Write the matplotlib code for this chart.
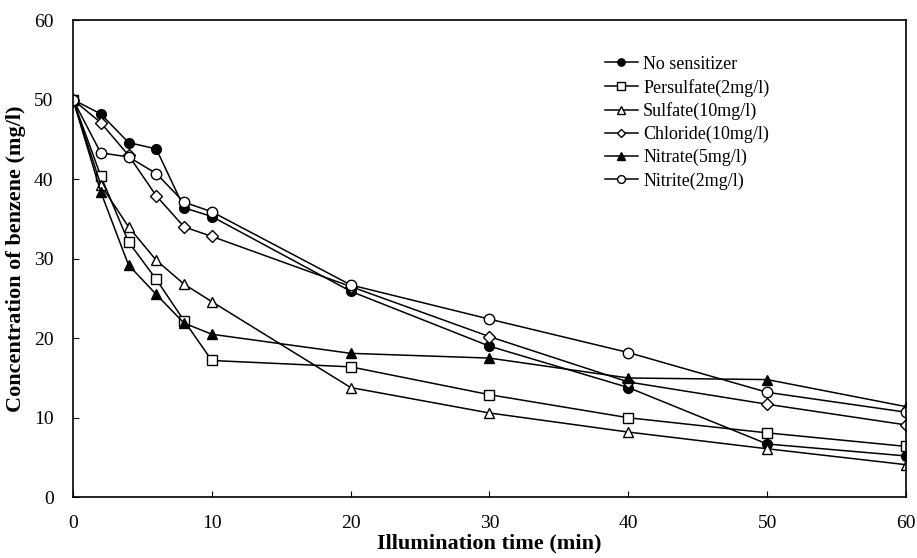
import matplotlib.pyplot as plt

# Datos
tiempo = [0, 2, 4, 6, 8, 10, 20, 30, 40, 50, 60]

sin_sensibilizador = [50, 48.2, 44.6, 43.8, 36.4, 35.3, 25.9, 19.0, 13.8, 6.7, 5.2]
persulfato = [50, 40.4, 32.1, 27.4, 22.2, 17.2, 16.4, 12.9, 10.0, 8.1, 6.4]
sulfato = [50, 39.3, 34.0, 29.8, 26.8, 24.6, 13.8, 10.6, 8.2, 6.1, 4.1]
cloruro = [50, 47.1, 43.0, 37.9, 34.0, 32.8, 26.5, 20.2, 14.5, 11.7, 9.1]
nitrato = [50, 38.4, 29.2, 25.5, 21.9, 20.5, 18.1, 17.5, 15.0, 14.8, 11.4]
nitrito = [50, 43.3, 42.8, 40.7, 37.1, 35.9, 26.7, 22.4, 18.2, 13.2, 10.7]

etiquetas = ["No sensitizer", "Persulfate(2mg/l)", "Sulfate(10mg/l)",
             "Chloride(10mg/l)", "Nitrate(5mg/l)", "Nitrite(2mg/l)"]

xticks = [0, 10, 20, 30, 40, 50, 60]
yticks = [0, 10, 20, 30, 40, 50, 60]

plt.rcParams['font.family'] = ['Liberation Serif', 'DejaVu Serif']

fig = plt.figure(figsize=(9.17, 5.58), dpi=100)
ax = fig.add_axes([0.0796, 0.1088, 0.9084, 0.8552])

# (serie, marcador, relleno, tamano)
series = [
    (sin_sensibilizador, 'o', 'black', 7),
    (persulfato, 's', 'white', 7.5),
    (sulfato, '^', 'white', 7.5),
    (cloruro, 'D', 'white', 6),
    (nitrato, '^', 'black', 7.5),
    (nitrito, 'o', 'white', 7.5),
]

for (datos, marcador, relleno, tam), etiqueta in zip(series, etiquetas):
    ax.plot(tiempo, datos, color='black', linewidth=1.1, marker=marcador,
            markersize=tam, markerfacecolor=relleno, markeredgecolor='black',
            markeredgewidth=1.0, label=etiqueta)

ax.set_xlim(0, 60)
ax.set_ylim(0, 60)
ax.set_xticks(xticks)
ax.set_yticks(yticks)
ax.tick_params(direction='in', length=4, width=0.8, labelsize=14)
ax.tick_params(axis='x', pad=13)
ax.tick_params(axis='y', pad=14)

for lado in ax.spines.values():
    lado.set_linewidth(1.2)

ax.set_xlabel("Illumination time (min)", fontsize=16, fontweight='bold', labelpad=1)
ax.set_ylabel("Concentration of benzene (mg/l)", fontsize=16, fontweight='bold', labelpad=6)

fig.legend(loc='upper left', bbox_to_anchor=(0.66, 0.9), frameon=False,
           fontsize=13, markerscale=0.75, handlelength=1.8, handletextpad=0.3,
           labelspacing=0.32, borderpad=0, borderaxespad=0)

fig.savefig("out.png", dpi=100)
